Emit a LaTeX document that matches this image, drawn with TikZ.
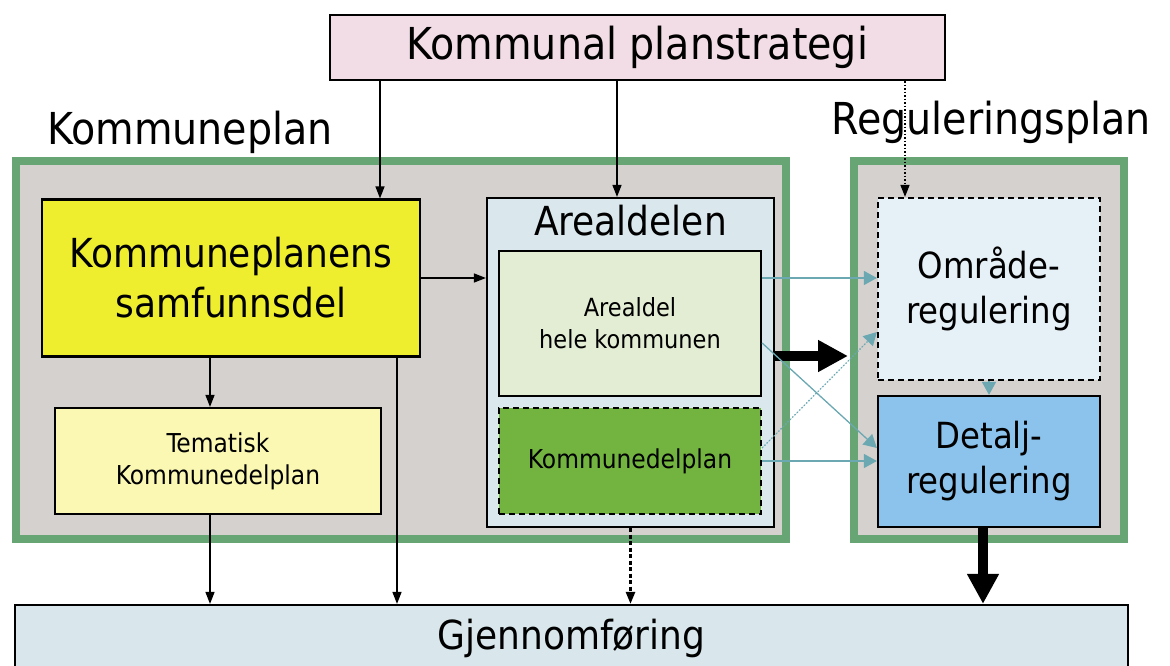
\documentclass[tikz,border=0pt]{standalone}
\usepackage{fontspec}
\setmainfont{DejaVu Sans Condensed}
\usepackage{tikz}
\usetikzlibrary{positioning, arrows.meta}

\definecolor{planpink}{RGB}{242,221,230}
\definecolor{framegreen}{RGB}{103,166,116}
\definecolor{framegray}{RGB}{213,209,206}
\definecolor{samfyellow}{RGB}{238,238,46}
\definecolor{temayellow}{RGB}{251,248,180}
\definecolor{arealblue}{RGB}{218,232,238}
\definecolor{helegreen}{RGB}{227,237,212}
\definecolor{kdpgreen}{RGB}{114,180,63}
\definecolor{omrblue}{RGB}{230,240,247}
\definecolor{detblue}{RGB}{140,195,236}
\definecolor{gjenblue}{RGB}{217,231,236}
\definecolor{arrowteal}{RGB}{107,168,178}

\newcommand{\txtbig}{\fontsize{44}{48}\selectfont}
\newcommand{\txtmid}{\fontsize{40}{50}\selectfont}
\newcommand{\txtreg}{\fontsize{36}{45}\selectfont}
\newcommand{\txtsmall}{\fontsize{26}{32}\selectfont}

\tikzset{
  box/.style={draw=black, line width=2.2pt, align=center, inner sep=0pt},
  frame/.style={draw=framegreen, line width=8pt, fill=framegray},
  thinarrow/.style={-{Triangle[length=12pt,width=9pt]}, line width=1.5pt},
  tealarrow/.style={-{Triangle[length=13pt,width=14pt]}, line width=1.3pt, draw=arrowteal, fill=arrowteal},
  fatarrow/.style={-{Triangle[length=30pt,width=30pt]}, line width=10pt},
}

\begin{document}
\begin{tikzpicture}[x=1pt, y=-1pt]
  \useasboundingbox (0,0) rectangle (1170,666);

  % helper coordinates for the connectors
  \coordinate (x210) at (210,0);
  \coordinate (x380) at (380,0);
  \coordinate (x397) at (397,0);
  \coordinate (x617) at (617,0);
  \coordinate (x905) at (905,0);
  \coordinate (x983) at (983,0);
  \coordinate (y278) at (0,278);
  \coordinate (y332) at (0,332);
  \coordinate (y343) at (0,343);
  \coordinate (y356) at (0,356);
  \coordinate (y448) at (0,448);

  % frames
  \node[frame, minimum width=770, minimum height=378] (kplan) at (401,350) {};
  \node[frame, minimum width=270, minimum height=378] (rplan) at (989,350) {};
  \node[anchor=base west, font=\txtbig] (kplanlabel) at (44,145) {Kommuneplan};
  \node[anchor=base west, font=\txtbig] (rplanlabel) at (828,135) {Reguleringsplan};

  % boxes
  \node[box, fill=planpink, minimum width=615, minimum height=65, font=\txtbig] (strategi) at (637.5,47.5) {Kommunal planstrategi};
  \node[box, fill=samfyellow, minimum width=378, minimum height=157, font=\txtmid] (samf) at (231,278) {Kommuneplanens\\samfunnsdel};
  \node[box, fill=temayellow, minimum width=326, minimum height=106, font=\txtsmall] (tema) at (218,461) {Tematisk\\Kommunedelplan};
  \node[box, fill=arealblue, minimum width=287, minimum height=329,
        label={[name=areallabel, anchor=north, yshift=-5pt, font=\txtmid]north:Arealdelen}] (areal) at (630.5,362.5) {};
  \node[box, fill=helegreen, minimum width=262, minimum height=145, font=\fontsize{25}{32}\selectfont] (hele) at (630,323.5) {Arealdel\\hele kommunen};
  \node[box, dashed, dash pattern=on 6pt off 4pt, fill=kdpgreen, minimum width=262, minimum height=106, font=\txtsmall] (kdp) at (630,461) {Kommunedelplan};
  \node[box, dashed, dash pattern=on 6pt off 4pt, fill=omrblue, minimum width=222, minimum height=182, font=\txtreg] (omr) at (989,289) {Område-\\regulering};
  \node[box, fill=detblue, minimum width=222, minimum height=131, font=\txtreg] (det) at (989,461.5) {Detalj-\\regulering};
  \node[box, fill=gjenblue, minimum width=1113, minimum height=66, font=\txtmid] (gjen) at (571.5,638) {Gjennomføring};

  % black connectors
  \draw[thinarrow] (x380 |- strategi.south) -- (x380 |- samf.north);
  \draw[thinarrow] (x617 |- strategi.south) -- (x617 |- areal.north);
  \draw[thinarrow, dotted] (x905 |- strategi.south) -- (x905 |- omr.north);
  \draw[thinarrow] (samf.east |- y278) -- (areal.west |- y278);
  \draw[thinarrow] (x210 |- samf.south) -- (x210 |- tema.north);
  \draw[thinarrow] (x210 |- tema.south) -- (x210 |- gjen.north);
  \draw[thinarrow] (x397 |- samf.south) -- (x397 |- gjen.north);
  \draw[thinarrow, line width=2.5pt, dash pattern=on 4pt off 2.5pt] (areal.south) -- (areal.south |- gjen.north);
  \draw[fatarrow] (areal.east |- y356) -- ([xshift=-2pt]rplan.west |- y356);
  \draw[fatarrow] (x983 |- det.south) -- (x983 |- gjen.north);

  % teal connectors
  \draw[tealarrow] (hele.east |- y278) -- (omr.west |- y278);
  \draw[tealarrow] (hele.east |- y343) -- (det.west |- y448);
  \draw[tealarrow, dotted] (kdp.east |- y448) -- (omr.west |- y332);
  \draw[tealarrow] (kdp.east) -- (kdp.east -| det.west);
  \draw[tealarrow] (omr.south) -- (det.north);
\end{tikzpicture}
\end{document}
